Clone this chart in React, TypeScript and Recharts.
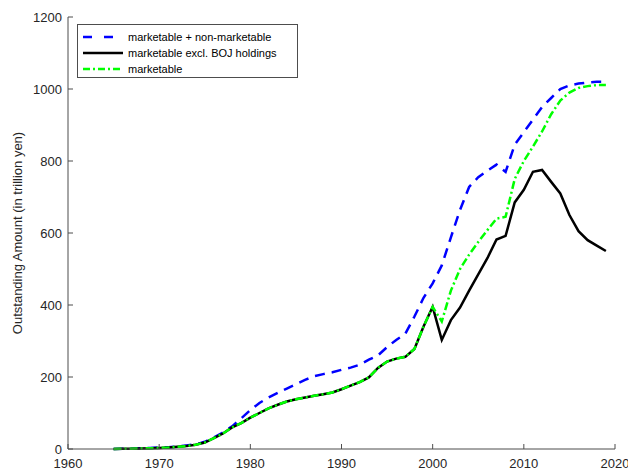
import { LineChart, Line, XAxis, YAxis, Legend } from "recharts";

const years = [
  1965, 1966, 1967, 1968, 1969, 1970, 1971, 1972, 1973, 1974,
  1975, 1976, 1977, 1978, 1979, 1980, 1981, 1982, 1983, 1984,
  1985, 1986, 1987, 1988, 1989, 1990, 1991, 1992, 1993, 1994,
  1995, 1996, 1997, 1998, 1999, 2000, 2001, 2002, 2003, 2004,
  2005, 2006, 2007, 2008, 2009, 2010, 2011, 2012, 2013, 2014,
  2015, 2016, 2017, 2018, 2019,
];

// marketable + non-marketable
const totalOutstanding = [
  0, 0.5, 1, 2, 3, 4, 5, 7, 10, 13,
  20, 32, 46, 63, 85, 108, 128, 143, 156, 168,
  180, 192, 202, 208, 213, 220, 226, 234, 248, 260,
  283, 303, 320, 368, 420, 460, 510, 588, 664, 728,
  755, 773, 790, 770, 845, 880, 915, 950, 975, 1000,
  1010, 1015, 1018, 1020, 1020,
];

// marketable excl. BOJ holdings
const exBojHoldings = [
  0, 0.5, 1, 1.5, 2, 3, 4, 6, 8, 12,
  18, 30, 43, 60, 72, 87, 100, 113, 123, 132,
  138, 143, 148, 152, 157, 166, 176, 186, 199, 225,
  243, 251, 256, 278, 340, 395, 303, 358, 393, 440,
  485, 530, 582, 592, 685, 720, 770, 775, 742, 710,
  650, 605, 580, 565, 550,
];

// marketable
const marketable = [
  0, 0.5, 1, 1.5, 2, 3, 4, 6, 8, 12,
  18, 30, 43, 60, 72, 87, 100, 113, 123, 132,
  138, 143, 148, 152, 157, 166, 176, 186, 199, 225,
  243, 251, 256, 278, 340, 395, 354, 440, 500, 540,
  575, 608, 640, 645, 750, 800, 840, 882, 930, 968,
  990, 1003, 1008, 1011, 1011,
];

const xTicks = [1960, 1970, 1980, 1990, 2000, 2010, 2020];
const yTicks = [0, 200, 400, 600, 800, 1000, 1200];

const data = years.map((year, i) => ({
  year,
  total: totalOutstanding[i],
  exBoj: exBojHoldings[i],
  marketable: marketable[i],
}));

const FONT = "'Liberation Sans', Arial, Helvetica, sans-serif";
const AXIS = "#4d4d4d";
const TEXT = "#262626";
const TICK_LEN = 5;

const series = [
  { key: "total", name: "marketable + non-marketable", color: "#0000ff", dash: "10 7", legendDash: "9 12" },
  { key: "exBoj", name: "marketable excl. BOJ holdings", color: "#000000", dash: undefined, legendDash: undefined },
  { key: "marketable", name: "marketable", color: "#00ff00", dash: "8 3 2 3", legendDash: "7 3 2 3" },
];

const BottomTick = ({ x, y, payload }: any) => (
  <g>
    <line x1={x} y1={y} x2={x} y2={y - TICK_LEN} stroke={AXIS} />
    <text x={x} y={y + 19} textAnchor="middle" fill={TEXT} fontSize={13} fontFamily={FONT}>
      {payload.value}
    </text>
  </g>
);

const TopTick = ({ x, y }: any) => <line x1={x} y1={y} x2={x} y2={y + TICK_LEN} stroke={AXIS} />;

const LeftTick = ({ x, y, payload }: any) => (
  <g>
    <line x1={x} y1={y} x2={x + TICK_LEN} y2={y} stroke={AXIS} />
    <text x={x - 6} y={y + 4.5} textAnchor="end" fill={TEXT} fontSize={13} fontFamily={FONT}>
      {payload.value}
    </text>
  </g>
);

const RightTick = ({ x, y }: any) => <line x1={x} y1={y} x2={x - TICK_LEN} y2={y} stroke={AXIS} />;

const YTitle = ({ viewBox }: any) => {
  const cy = viewBox.y + viewBox.height / 2;
  return (
    <text
      x={22}
      y={cy}
      transform={`rotate(-90 22 ${cy})`}
      textAnchor="middle"
      fill={TEXT}
      fontSize={13}
      fontFamily={FONT}
    >
      Outstanding Amount (in trillion yen)
    </text>
  );
};

const LegendBox = () => (
  <div
    style={{
      width: 219,
      height: 52,
      border: `1px solid ${AXIS}`,
      background: "#fff",
      fontFamily: FONT,
      fontSize: 11,
      color: "#000",
      boxSizing: "content-box",
    }}
  >
    {series.map((s, i) => (
      <div key={s.key} style={{ position: "absolute", left: 6, top: 5 + i * 16, height: 16, display: "flex", alignItems: "center" }}>
        <svg width={40} height={16} style={{ display: "block" }}>
          <line x1={0} y1={8} x2={40} y2={8} stroke={s.color} strokeWidth={2.5} strokeDasharray={s.legendDash} />
        </svg>
        <span style={{ marginLeft: 5, whiteSpace: "nowrap" }}>{s.name}</span>
      </div>
    ))}
  </div>
);

export default function App() {
  return (
    <div style={{ position: "absolute", left: 0, top: 0, width: 628, height: 470, background: "#fff" }}>
      <LineChart width={628} height={470} data={data} margin={{ top: 17, right: 13, bottom: 1, left: 8 }}>
        <XAxis
          dataKey="year"
          type="number"
          domain={[1960, 2020]}
          ticks={xTicks}
          interval={0}
          height={20}
          tickSize={0}
          tickMargin={0}
          tick={<BottomTick />}
          axisLine={{ stroke: AXIS }}
        />
        <XAxis
          xAxisId="top"
          orientation="top"
          dataKey="year"
          type="number"
          domain={[1960, 2020]}
          ticks={xTicks}
          interval={0}
          height={0}
          tickSize={0}
          tickMargin={0}
          tick={<TopTick />}
          axisLine={{ stroke: AXIS }}
        />
        <YAxis
          type="number"
          domain={[0, 1200]}
          ticks={yTicks}
          interval={0}
          width={60}
          tickSize={0}
          tickMargin={0}
          tick={<LeftTick />}
          axisLine={{ stroke: AXIS }}
          label={<YTitle />}
        />
        <YAxis
          yAxisId="right"
          orientation="right"
          type="number"
          domain={[0, 1200]}
          ticks={yTicks}
          interval={0}
          width={0}
          tickSize={0}
          tickMargin={0}
          tick={<RightTick />}
          axisLine={{ stroke: AXIS }}
        />
        {series.map((s) => (
          <Line
            key={s.key}
            type="linear"
            dataKey={s.key}
            name={s.name}
            stroke={s.color}
            strokeWidth={2.5}
            strokeDasharray={s.dash}
            dot={false}
            activeDot={false}
            isAnimationActive={false}
          />
        ))}
        <Legend
          layout="vertical"
          align="center"
          verticalAlign="middle"
          content={<LegendBox />}
          wrapperStyle={{ position: "absolute", left: 77, top: 24, width: 221, height: 54 }}
        />
      </LineChart>
    </div>
  );
}
